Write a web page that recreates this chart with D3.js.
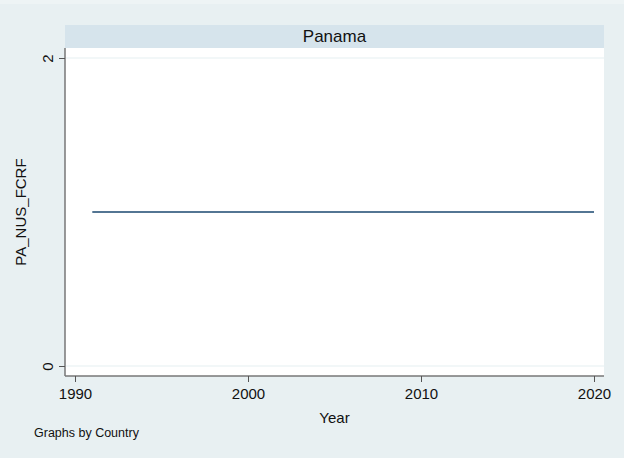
<!DOCTYPE html>
<html><head><meta charset="utf-8">
<script src="https://cdn.jsdelivr.net/npm/d3@7"></script>
<style>html,body{margin:0;padding:0;background:#e8f0f2;}svg{display:block;font-family:"Liberation Sans",Arial,Helvetica,sans-serif;}</style>
</head><body>
<script>
const country = "Panama";
const years = [1991,1992,1993,1994,1995,1996,1997,1998,1999,2000,2001,2002,2003,2004,2005,2006,2007,2008,2009,2010,2011,2012,2013,2014,2015,2016,2017,2018,2019,2020];
const values = [1,1,1,1,1,1,1,1,1,1,1,1,1,1,1,1,1,1,1,1,1,1,1,1,1,1,1,1,1,1];
const xTicks = [1990,2000,2010,2020];
const yTicks = [0,2];
const yTitle = "PA_NUS_FCRF";
const xTitle = "Year";
const note = "Graphs by Country";

(function(){
const W=624,H=458;
const svg=d3.select("body").append("svg").attr("width",W).attr("height",H);
svg.append("rect").attr("width",W).attr("height",H).attr("fill","#e8f0f2");
svg.append("rect").attr("width",W).attr("height",4).attr("fill","#eef4f5");

const pL=65,pR=604,pT=48,pB=376;
const x=d3.scaleLinear().domain([1990,2020]).range([75,594]);
const y=d3.scaleLinear().domain([0,2]).range([366,58]);

// header strip
svg.append("rect").attr("x",pL).attr("y",25).attr("width",pR-pL).attr("height",pT-25).attr("fill","#d6e4ec");
svg.append("text").attr("x",(pL+pR)/2).attr("y",42).attr("text-anchor","middle").attr("font-size",17).attr("fill","#111").text(country);

// plot region
svg.append("rect").attr("x",pL).attr("y",pT).attr("width",pR-pL).attr("height",pB-pT).attr("fill","#ffffff");

// gridlines
svg.append("g").selectAll("line").data(yTicks).join("line")
  .attr("x1",pL+1).attr("x2",pR).attr("y1",d=>y(d)).attr("y2",d=>y(d))
  .attr("stroke","#e6eff1").attr("stroke-width",1.2);

// axes
const gy=svg.append("g").attr("transform",`translate(${pL},0)`)
  .call(d3.axisLeft(y).tickValues(yTicks).tickSize(6).tickPadding(4).tickFormat(d3.format("d")));
gy.select(".domain").attr("d",`M0,${pT}V${pB}`).attr("stroke","#777").attr("stroke-width",1.5);
gy.selectAll(".tick line").attr("stroke","#555");
gy.selectAll(".tick text").attr("font-size",15).attr("fill","#111").attr("font-family","Liberation Sans, Arial, sans-serif")
  .attr("dy",null)
  .attr("transform","translate(-12,0) rotate(-90)").attr("text-anchor","middle").attr("x",0).attr("y",0);

const gx=svg.append("g").attr("transform",`translate(0,${pB})`)
  .call(d3.axisBottom(x).tickValues(xTicks).tickSize(6).tickPadding(6).tickFormat(d3.format("d")));
gx.select(".domain").attr("d",`M${pL},0H${pR}`).attr("stroke","#777").attr("stroke-width",1.5);
gx.selectAll(".tick line").attr("stroke","#555");
gx.selectAll(".tick text").attr("font-size",15).attr("fill","#111").attr("font-family","Liberation Sans, Arial, sans-serif");

// line
svg.append("path").datum(years.map((d,i)=>[d,values[i]]))
  .attr("d",d3.line().x(d=>x(d[0])).y(d=>y(d[1])))
  .attr("fill","none").attr("stroke","#1a476f").attr("stroke-width",1.5);

// titles
svg.append("text").attr("transform",`translate(26,${(y(0)+y(2))/2}) rotate(-90)`).attr("text-anchor","middle")
  .attr("font-size",15).attr("fill","#111").text(yTitle);
svg.append("text").attr("x",(x(1990)+x(2020))/2).attr("y",423).attr("text-anchor","middle")
  .attr("font-size",15).attr("fill","#111").text(xTitle);
svg.append("text").attr("x",34).attr("y",437).attr("font-size",12.5).attr("fill","#111").text(note);
})();
</script>
</body></html>
